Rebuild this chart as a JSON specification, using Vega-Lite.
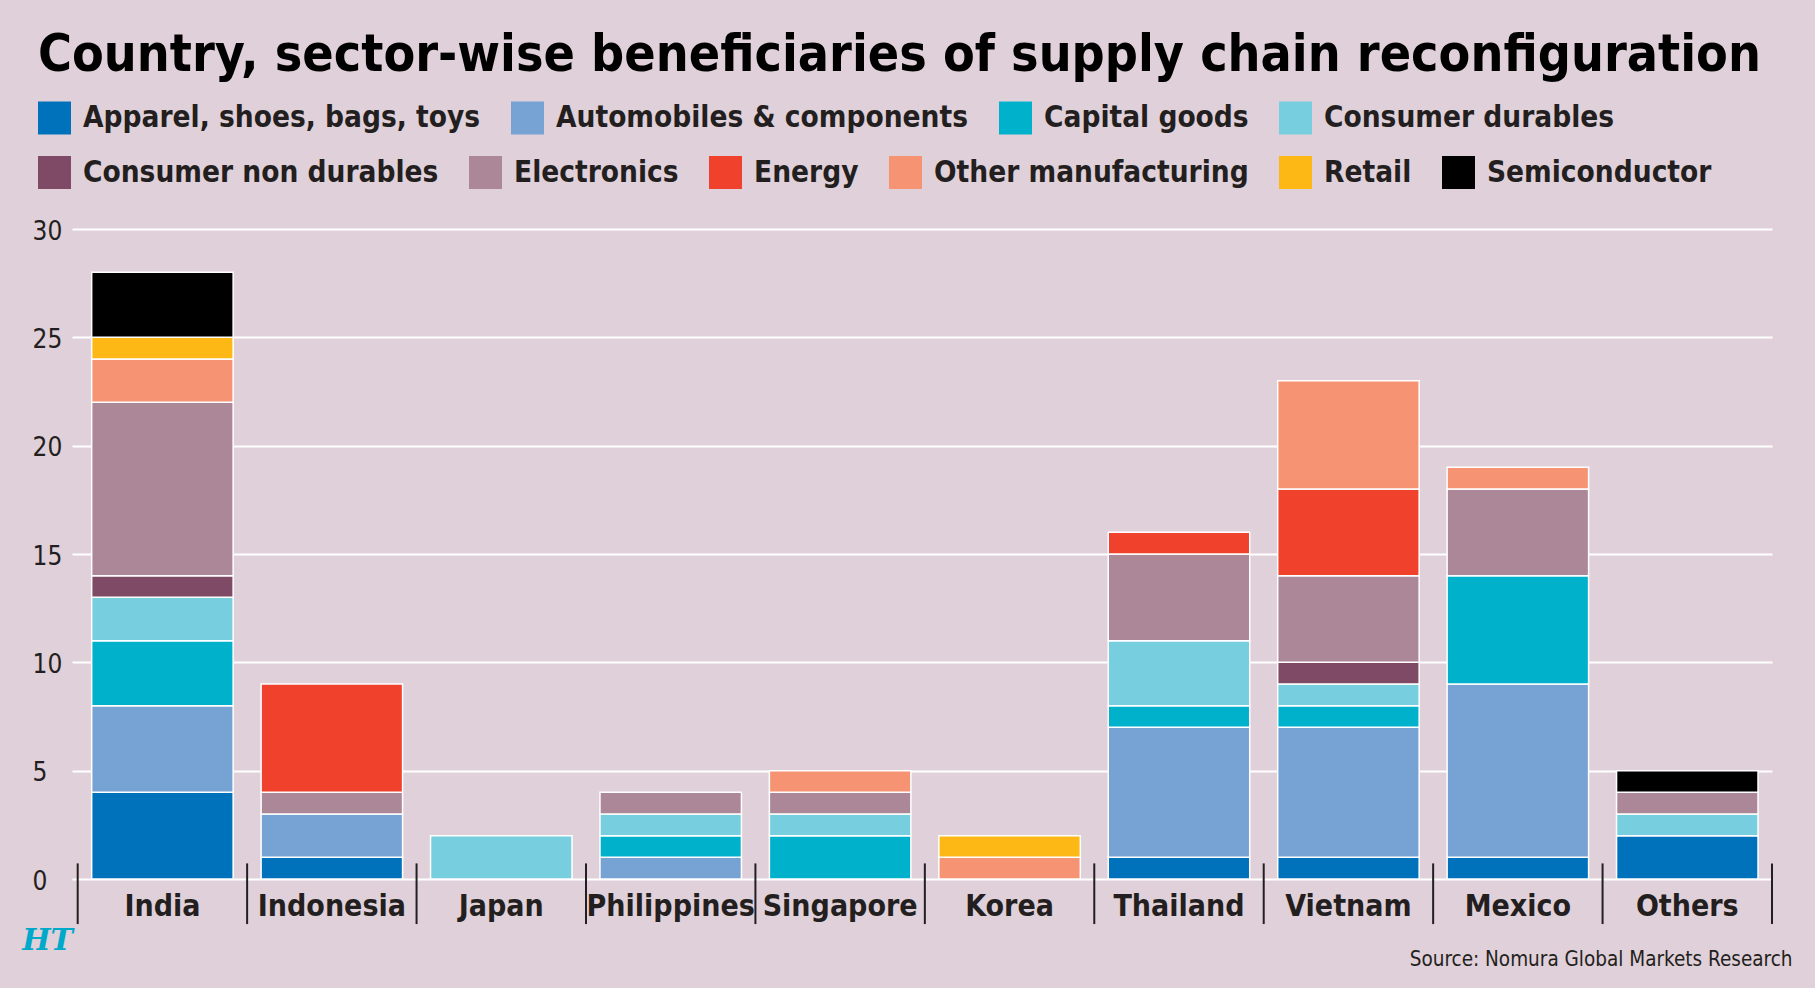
{
  "$schema": "https://vega.github.io/schema/vega-lite/v6.json",
  "width": 1700,
  "height": 650,
  "autosize": {"type": "none"},
  "padding": {"left": 72, "top": 229, "right": 43, "bottom": 109},
  "background": "#e0d0d9",
  "title": {
    "text": "Country, sector-wise beneficiaries of supply chain reconfiguration",
    "anchor": "start",
    "frame": "group",
    "orient": "top",
    "offset": 29.5,
    "baseline": "alphabetic",
    "dx": -34,
    "dy": 50,
    "font": "DejaVu Sans Condensed",
    "fontSize": 51.5,
    "fontWeight": "bold",
    "color": "#000000"
  },
  "data": {
    "values": [
      {"country": "India", "sector": "Apparel, shoes, bags, toys", "value": 4},
      {"country": "India", "sector": "Automobiles & components", "value": 4},
      {"country": "India", "sector": "Capital goods", "value": 3},
      {"country": "India", "sector": "Consumer durables", "value": 2},
      {"country": "India", "sector": "Consumer non durables", "value": 1},
      {"country": "India", "sector": "Electronics", "value": 8},
      {"country": "India", "sector": "Other manufacturing", "value": 2},
      {"country": "India", "sector": "Retail", "value": 1},
      {"country": "India", "sector": "Semiconductor", "value": 3},
      {"country": "Indonesia", "sector": "Apparel, shoes, bags, toys", "value": 1},
      {"country": "Indonesia", "sector": "Automobiles & components", "value": 2},
      {"country": "Indonesia", "sector": "Electronics", "value": 1},
      {"country": "Indonesia", "sector": "Energy", "value": 5},
      {"country": "Japan", "sector": "Consumer durables", "value": 2},
      {"country": "Philippines", "sector": "Automobiles & components", "value": 1},
      {"country": "Philippines", "sector": "Capital goods", "value": 1},
      {"country": "Philippines", "sector": "Consumer durables", "value": 1},
      {"country": "Philippines", "sector": "Electronics", "value": 1},
      {"country": "Singapore", "sector": "Capital goods", "value": 2},
      {"country": "Singapore", "sector": "Consumer durables", "value": 1},
      {"country": "Singapore", "sector": "Electronics", "value": 1},
      {"country": "Singapore", "sector": "Other manufacturing", "value": 1},
      {"country": "Korea", "sector": "Other manufacturing", "value": 1},
      {"country": "Korea", "sector": "Retail", "value": 1},
      {"country": "Thailand", "sector": "Apparel, shoes, bags, toys", "value": 1},
      {"country": "Thailand", "sector": "Automobiles & components", "value": 6},
      {"country": "Thailand", "sector": "Capital goods", "value": 1},
      {"country": "Thailand", "sector": "Consumer durables", "value": 3},
      {"country": "Thailand", "sector": "Electronics", "value": 4},
      {"country": "Thailand", "sector": "Energy", "value": 1},
      {"country": "Vietnam", "sector": "Apparel, shoes, bags, toys", "value": 1},
      {"country": "Vietnam", "sector": "Automobiles & components", "value": 6},
      {"country": "Vietnam", "sector": "Capital goods", "value": 1},
      {"country": "Vietnam", "sector": "Consumer durables", "value": 1},
      {"country": "Vietnam", "sector": "Consumer non durables", "value": 1},
      {"country": "Vietnam", "sector": "Electronics", "value": 4},
      {"country": "Vietnam", "sector": "Energy", "value": 4},
      {"country": "Vietnam", "sector": "Other manufacturing", "value": 5},
      {"country": "Mexico", "sector": "Apparel, shoes, bags, toys", "value": 1},
      {"country": "Mexico", "sector": "Automobiles & components", "value": 8},
      {"country": "Mexico", "sector": "Capital goods", "value": 5},
      {"country": "Mexico", "sector": "Electronics", "value": 4},
      {"country": "Mexico", "sector": "Other manufacturing", "value": 1},
      {"country": "Others", "sector": "Apparel, shoes, bags, toys", "value": 2},
      {"country": "Others", "sector": "Consumer durables", "value": 1},
      {"country": "Others", "sector": "Electronics", "value": 1},
      {"country": "Others", "sector": "Semiconductor", "value": 1}
    ]
  },
  "layer": [
    {
      "transform": [
        {"stack": "value", "groupby": ["country"], "sort": [{"field": "sector", "order": "ascending"}], "as": ["y0", "y1"]},
        {"filter": {"field": "sector", "oneOf": ["Apparel, shoes, bags, toys", "Automobiles & components", "Capital goods", "Consumer durables"]}}
      ],
      "mark": {"type": "bar", "width": {"band": 0.835}, "stroke": "#ffffff", "strokeWidth": 1.5},
      "encoding": {
        "x": {"field": "country", "type": "nominal", "scale": {"domain": ["India", "Indonesia", "Japan", "Philippines", "Singapore", "Korea", "Thailand", "Vietnam", "Mexico", "Others"], "paddingInner": 0, "paddingOuter": 0.0168, "align": 1},
          "axis": {"title": "Source: Nomura Global Markets Research", "titleFont": "DejaVu Sans Condensed", "titleFontWeight": "normal", "titleFontSize": 20.5, "titleColor": "#231f20", "titleX": 1720, "titleY": 86, "titleAlign": "right", "titleBaseline": "alphabetic", "domain": false, "ticks": false, "tickSize": 0, "labelPadding": 36, "labelBaseline": "alphabetic", "labelFontSize": 30, "labelFontWeight": "bold", "labelColor": "#231f20", "labelAngle": 0, "labelLimit": 400, "grid": false, "labelFont": "DejaVu Sans Condensed"}},
        "y": {"field": "y0", "type": "quantitative", "scale": {"domain": [0, 30], "nice": false},
          "axis": {"title": "HT", "titleColor": "#00a9c9", "titleFont": "DejaVu Serif", "titleFontStyle": "italic", "titleFontWeight": "bold", "titleFontSize": 30, "titleAngle": 0, "titleX": -25, "titleY": 711, "titleAlign": "center", "titleBaseline": "middle", "domain": false, "ticks": false, "tickSize": 0, "labelPadding": 40, "labelAlign": "left", "labelBaseline": "middle", "labelOffset": 2, "labelFontSize": 26, "labelColor": "#231f20", "labelFont": "DejaVu Sans Condensed", "values": [0, 5, 10, 15, 20, 25, 30], "grid": true, "gridColor": "#ffffff", "gridWidth": 2.2, "gridOpacity": 1}},
        "y2": {"field": "y1"},
        "color": {"field": "sector", "type": "nominal",
          "scale": {"domain": ["Apparel, shoes, bags, toys", "Automobiles & components", "Capital goods", "Consumer durables"], "range": ["#0072bb", "#77a2d4", "#00b1cc", "#77cede"]},
          "legend": {"orient": "none", "legendX": -34, "legendY": -127.5, "direction": "horizontal", "columns": 10, "title": null, "symbolType": "square", "symbolSize": 1089, "symbolStrokeWidth": 0, "symbolOpacity": 1, "labelFontSize": 29.5, "labelFontWeight": "bold", "labelColor": "#231f20", "labelFont": "DejaVu Sans Condensed", "labelOffset": 12, "labelLimit": 1000, "columnPadding": 30, "padding": 0}}
      }
    },
    {
      "transform": [
        {"stack": "value", "groupby": ["country"], "sort": [{"field": "sector", "order": "ascending"}], "as": ["y0", "y1"]},
        {"filter": {"field": "sector", "oneOf": ["Consumer non durables", "Electronics", "Energy", "Other manufacturing", "Retail", "Semiconductor"]}}
      ],
      "mark": {"type": "bar", "width": {"band": 0.835}, "stroke": "#ffffff", "strokeWidth": 1.5},
      "encoding": {
        "x": {"field": "country", "type": "nominal"},
        "y": {"field": "y0", "type": "quantitative"},
        "y2": {"field": "y1"},
        "color": {"field": "sector", "type": "nominal",
          "scale": {"domain": ["Consumer non durables", "Electronics", "Energy", "Other manufacturing", "Retail", "Semiconductor"], "range": ["#7e4a65", "#ab8797", "#ef412c", "#f59372", "#fdb815", "#000000"]},
          "legend": {"orient": "none", "legendX": -34, "legendY": -73, "direction": "horizontal", "columns": 10, "title": null, "symbolType": "square", "symbolSize": 1089, "symbolStrokeWidth": 0, "symbolOpacity": 1, "labelFontSize": 29.5, "labelFontWeight": "bold", "labelColor": "#231f20", "labelFont": "DejaVu Sans Condensed", "labelOffset": 12, "labelLimit": 1000, "columnPadding": 30, "padding": 0}}
      }
    },
    {
      "transform": [{"aggregate": [{"op": "count", "as": "n"}], "groupby": ["country"]}],
      "mark": {"type": "rule", "color": "#231f20", "strokeWidth": 2},
      "encoding": {
        "x": {"field": "country", "type": "nominal", "bandPosition": 0},
        "y": {"datum": 0.72, "type": "quantitative"},
        "y2": {"datum": -2.08}
      }
    },
    {
      "transform": [{"aggregate": [{"op": "count", "as": "n"}], "groupby": ["country"]}, {"filter": "datum.country === 'Others'"}],
      "mark": {"type": "rule", "color": "#231f20", "strokeWidth": 2},
      "encoding": {
        "x": {"field": "country", "type": "nominal", "bandPosition": 1},
        "y": {"datum": 0.72, "type": "quantitative"},
        "y2": {"datum": -2.08}
      }
    }
  ],
  "resolve": {"scale": {"color": "independent"}, "legend": {"color": "independent"}},
  "config": {
    "view": {"stroke": null},
    "font": "DejaVu Sans Condensed"
  }
}
